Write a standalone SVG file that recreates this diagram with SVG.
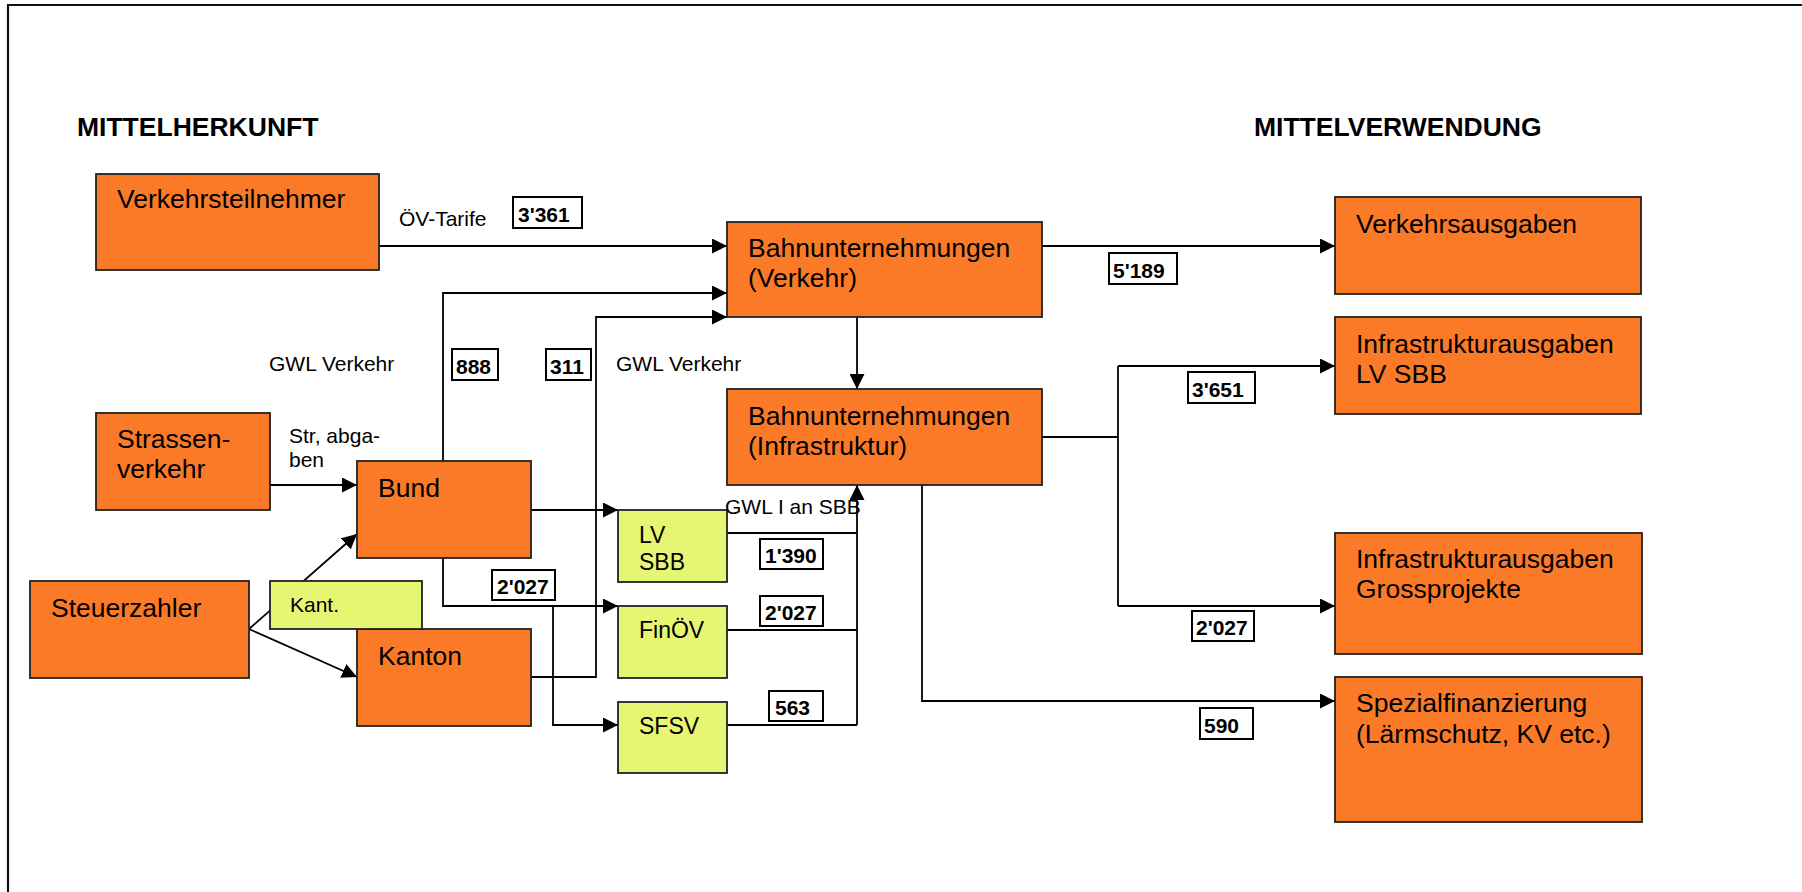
<svg xmlns="http://www.w3.org/2000/svg" width="1802" height="892" viewBox="0 0 1802 892">
<style>
text{font-family:"Liberation Sans",Arial,sans-serif;fill:#000}
.o{fill:#FA7A28;stroke:#222;stroke-width:1.8}
.y{fill:#E6F572;stroke:#222;stroke-width:1.8}
.t{font-size:26.5px}
.ty{font-size:23px}
.l{font-size:21px}
.h{font-size:26.5px;font-weight:bold}
.nb{fill:#fff;stroke:#000;stroke-width:2}
.n{font-size:21px;font-weight:bold}
.c{fill:none;stroke:#000;stroke-width:1.8}
</style>
<defs>
<marker id="a" markerUnits="userSpaceOnUse" markerWidth="15" markerHeight="15" refX="15" refY="7.5" orient="auto">
<path d="M0,0 L15,7.5 L0,15 Z" fill="#000"/>
</marker>
</defs>
<rect width="1802" height="892" fill="#fff"/>
<path d="M8,892 V5 H1802" fill="none" stroke="#111" stroke-width="2.2"/>
<text class="h" x="77" y="136">MITTELHERKUNFT</text>
<text class="h" x="1254" y="136">MITTELVERWENDUNG</text>

<g id="connectors">
<path class="c" d="M379,246 H727" marker-end="url(#a)"/>
<path class="c" d="M443,461 V293 H727" marker-end="url(#a)"/>
<path class="c" d="M531,677 H596 V317 H727" marker-end="url(#a)"/>
<path class="c" d="M270,485 H357" marker-end="url(#a)"/>
<path class="c" d="M249,629 L357,534" marker-end="url(#a)"/>
<path class="c" d="M249,629 L357,677" marker-end="url(#a)"/>
<path class="c" d="M531,510 H618" marker-end="url(#a)"/>
<path class="c" d="M443,558 V606 H618" marker-end="url(#a)"/>
<path class="c" d="M553,606 V725 H618" marker-end="url(#a)"/>
<path class="c" d="M727,533 H857 M727,630 H857 M727,725 H857"/>
<path class="c" d="M857,725 V485" marker-end="url(#a)"/>
<path class="c" d="M857,317 V389" marker-end="url(#a)"/>
<path class="c" d="M1042,246 H1335" marker-end="url(#a)"/>
<path class="c" d="M1042,437 H1118 M1118,366 V606"/>
<path class="c" d="M1118,366 H1335" marker-end="url(#a)"/>
<path class="c" d="M1118,606 H1335" marker-end="url(#a)"/>
<path class="c" d="M922,485 V701 H1335" marker-end="url(#a)"/>
</g>

<g id="verkehrsteilnehmer"><rect class="o" x="96" y="174" width="283" height="96"/><text class="t" x="117" y="208">Verkehrsteilnehmer</text></g>
<g id="strassenverkehr"><rect class="o" x="96" y="413" width="174" height="97"/><text class="t" x="117" y="448">Strassen-</text><text class="t" x="117" y="478">verkehr</text></g>
<g id="steuerzahler"><rect class="o" x="30" y="581" width="219" height="97"/><text class="t" x="51" y="617">Steuerzahler</text></g>
<g id="bund"><rect class="o" x="357" y="461" width="174" height="97"/><text class="t" x="378" y="497">Bund</text></g>
<g id="kanton"><rect class="o" x="357" y="629" width="174" height="97"/><text class="t" x="378" y="665">Kanton</text></g>
<g id="kant"><rect class="y" x="270" y="581" width="152" height="48"/><text class="l" x="290" y="612">Kant.</text></g>
<g id="lvsbb"><rect class="y" x="618" y="510" width="109" height="72"/><text class="ty" x="639" y="543">LV</text><text class="ty" x="639" y="570">SBB</text></g>
<g id="finoev"><rect class="y" x="618" y="606" width="109" height="72"/><text class="ty" x="639" y="638">FinÖV</text></g>
<g id="sfsv"><rect class="y" x="618" y="702" width="109" height="71"/><text class="ty" x="639" y="734">SFSV</text></g>
<g id="bahn-verkehr"><rect class="o" x="727" y="222" width="315" height="95"/><text class="t" x="748" y="257">Bahnunternehmungen</text><text class="t" x="748" y="287">(Verkehr)</text></g>
<g id="bahn-infra"><rect class="o" x="727" y="389" width="315" height="96"/><text class="t" x="748" y="425">Bahnunternehmungen</text><text class="t" x="748" y="455">(Infrastruktur)</text></g>
<g id="verkehrsausgaben"><rect class="o" x="1335" y="197" width="306" height="97"/><text class="t" x="1356" y="233">Verkehrsausgaben</text></g>
<g id="infra-lvsbb"><rect class="o" x="1335" y="317" width="306" height="97"/><text class="t" x="1356" y="353">Infrastrukturausgaben</text><text class="t" x="1356" y="383">LV SBB</text></g>
<g id="infra-gross"><rect class="o" x="1335" y="533" width="307" height="121"/><text class="t" x="1356" y="568">Infrastrukturausgaben</text><text class="t" x="1356" y="598">Grossprojekte</text></g>
<g id="spezial"><rect class="o" x="1335" y="677" width="307" height="145"/><text class="t" x="1356" y="712">Spezialfinanzierung</text><text class="t" x="1356" y="743">(Lärmschutz, KV etc.)</text></g>

<g id="labels">
<text class="l" x="399" y="226">ÖV-Tarife</text>
<text class="l" x="269" y="371">GWL Verkehr</text>
<text class="l" x="616" y="371">GWL Verkehr</text>
<text class="l" x="289" y="443">Str, abga-</text>
<text class="l" x="289" y="467">ben</text>
<text class="l" x="725" y="514">GWL I an SBB</text>
</g>

<g id="numbers">
<rect class="nb" x="513" y="197" width="69" height="31"/><text class="n" x="518" y="222">3'361</text>
<rect class="nb" x="452" y="349" width="46" height="31"/><text class="n" x="456" y="374">888</text>
<rect class="nb" x="546" y="349" width="45" height="31"/><text class="n" x="550" y="374">311</text>
<rect class="nb" x="1109" y="253" width="68" height="31"/><text class="n" x="1113" y="278">5'189</text>
<rect class="nb" x="1188" y="372" width="67" height="31"/><text class="n" x="1192" y="397">3'651</text>
<rect class="nb" x="492" y="570" width="63" height="30"/><text class="n" x="497" y="594">2'027</text>
<rect class="nb" x="760" y="539" width="63" height="30"/><text class="n" x="765" y="563">1'390</text>
<rect class="nb" x="760" y="596" width="63" height="30"/><text class="n" x="765" y="620">2'027</text>
<rect class="nb" x="769" y="691" width="54" height="30"/><text class="n" x="775" y="715">563</text>
<rect class="nb" x="1192" y="611" width="62" height="30"/><text class="n" x="1196" y="635">2'027</text>
<rect class="nb" x="1200" y="708" width="53" height="31"/><text class="n" x="1204" y="733">590</text>
</g>
</svg>
